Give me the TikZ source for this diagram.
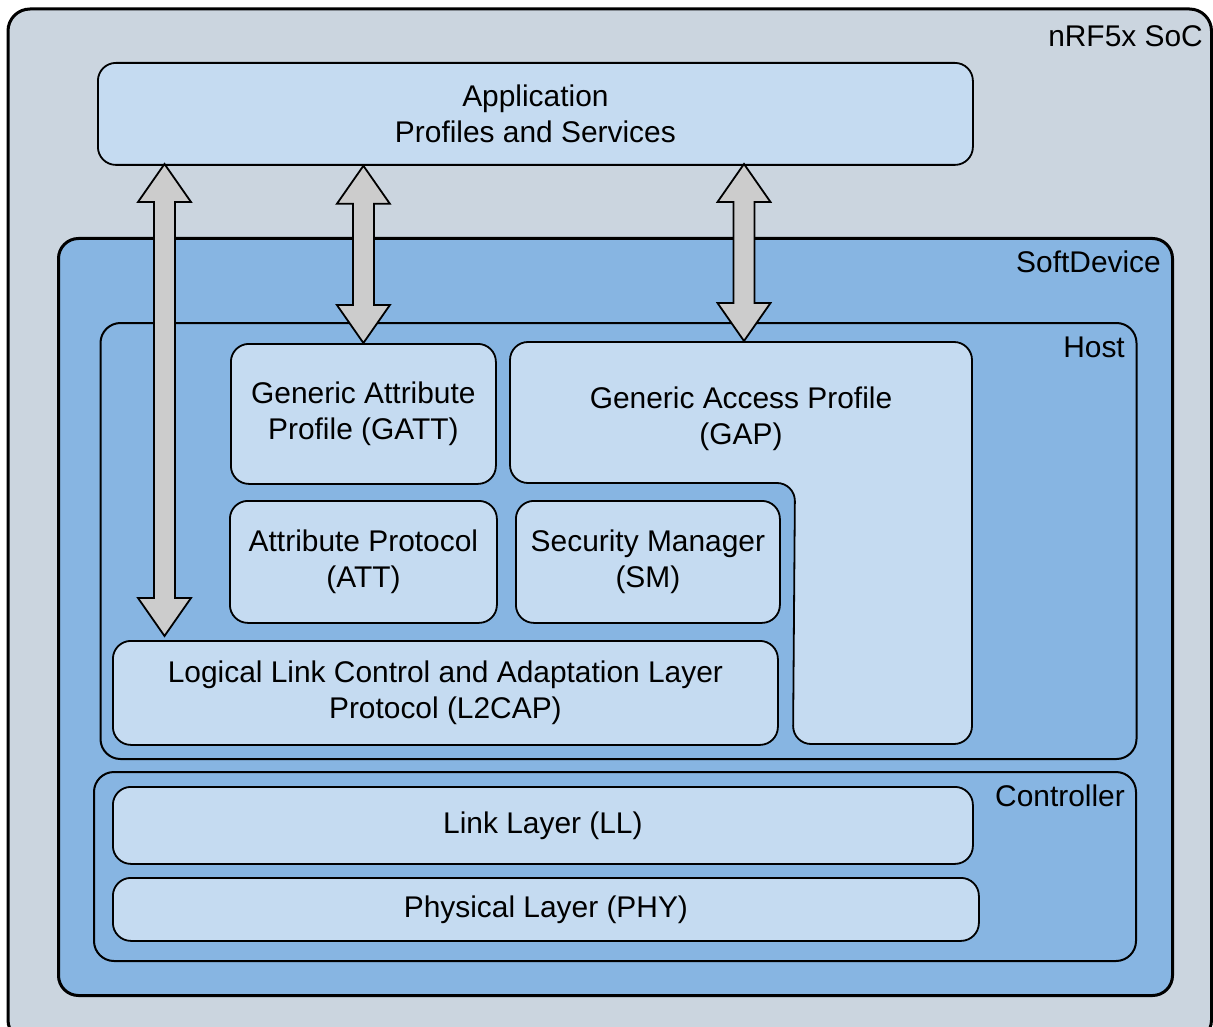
\documentclass[tikz,border=0pt]{standalone}
\usepackage{fontspec}
\setmainfont{Liberation Sans}
\usetikzlibrary{calc}
\definecolor{socgray}{HTML}{CBD5DF}
\definecolor{sdblue}{HTML}{87B5E2}
\definecolor{boxblue}{HTML}{C5DBF1}
\definecolor{arrgray}{HTML}{CCCCCC}
\tikzset{
  txt/.style={font=\fontsize{29.9}{36}\selectfont, align=center},
  inbox/.style={txt, draw=black, line width=1.8pt, fill=boxblue, rounded corners=18pt, anchor=north west, inner sep=0pt},
  container/.style={draw=black, line width=2pt, fill=sdblue, rounded corners=20pt, anchor=north west, inner sep=0pt},
  cornerlbl/.style={txt, anchor=base east, inner sep=0pt},
  arrowsty/.style={draw=black, line width=1.8pt, fill=arrgray, line join=miter},
}
\newcommand\dblarr[2]{%
  \draw[arrowsty] let \p1=(#1), \p2=(#2) in
    (\x1,\y1) -- (\x1+26.5pt,\y1-38pt) -- (\x1+10.5pt,\y1-38pt) -- (\x1+10.5pt,\y2+38pt)
    -- (\x1+26.5pt,\y2+38pt) -- (\x2,\y2) -- (\x1-26.5pt,\y2+38pt) -- (\x1-10.5pt,\y2+38pt)
    -- (\x1-10.5pt,\y1-38pt) -- (\x1-26.5pt,\y1-38pt) -- cycle;}
\begin{document}
\begin{tikzpicture}[x=1pt, y=-1pt]
\useasboundingbox (0,0) rectangle (1213,1027);
\clip (0,0) rectangle (1213,1027);
\fill[white] (0,0) rectangle (1213,1027);
% outer SoC
\draw[line width=3pt, fill=socgray, rounded corners=22pt] (8,9) rectangle (1211.5,1042);
\node[cornerlbl] (soclbl) at (1203,47) {nRF5x SoC};
% application
\node[inbox, minimum width=875pt, minimum height=102pt] (app) at (97,62) {Application\\Profiles and Services};
% softdevice
\node[container, line width=3pt, minimum width=1114pt, minimum height=757pt] (sd) at (57,237) {};
\node[cornerlbl] (sdlbl) at (1161,272.5) {SoftDevice};
% host
\node[container, minimum width=1036pt, minimum height=436pt] (host) at (99.5,322) {};
\node[cornerlbl] (hostlbl) at (1125,357.5) {Host};
% controller
\node[container, minimum width=1042pt, minimum height=189pt] (ctrl) at (93,771) {};
\node[cornerlbl] (ctrllbl) at (1125,806) {Controller};
% GATT
\node[inbox, minimum width=265pt, minimum height=140pt] (gatt) at (230,343) {Generic Attribute\\Profile (GATT)};
% GAP (L-shaped)
\draw[line width=1.8pt, fill=boxblue, rounded corners=18pt]
  (510,342) -- (972,342) -- (972,744) -- (793,744) -- (795,483) -- (510,483) -- cycle;
\node[txt] (gap) at (741,419) {Generic Access Profile\\(GAP)};
% ATT / SM
\node[inbox, minimum width=267pt, minimum height=122pt] (att) at (229,500) {Attribute Protocol\\(ATT)};
\node[inbox, minimum width=264pt, minimum height=122pt] (sm) at (515,500) {Security Manager\\(SM)};
% L2CAP
\node[inbox, minimum width=665pt, minimum height=104pt] (l2cap) at (112,640) {Logical Link Control and Adaptation Layer\\Protocol (L2CAP)};
% LL / PHY
\node[inbox, minimum width=860pt, minimum height=77pt] (ll) at (112,786) {Link Layer (LL)};
\node[inbox, minimum width=866pt, minimum height=63pt] (phy) at (112,877) {Physical Layer (PHY)};
% arrows
\coordinate (a1t) at (164.5,164);
\coordinate (a1b) at (164.5,636);
\coordinate (a2t) at (app.south -| gatt.north);
\coordinate (a2b) at (gatt.north);
\coordinate (a3t) at (744,164);
\coordinate (a3b) at (744,341);
\dblarr{a1t}{a1b}
\dblarr{a2t}{a2b}
\dblarr{a3t}{a3b}
\end{tikzpicture}
\end{document}
